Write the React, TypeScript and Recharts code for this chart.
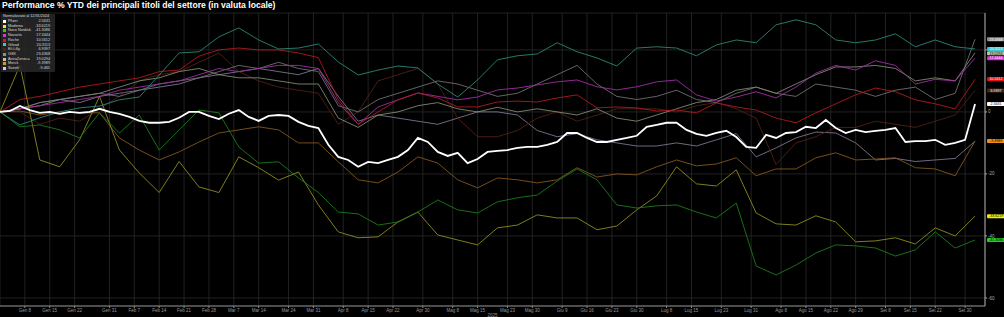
import React from "react";
import { LineChart, Line, XAxis, YAxis, CartesianGrid } from "recharts";

// variazione % YTD, normalizzata al 31/12/2024
// pfizer: un punto ogni 2 sedute, gli altri ogni 4 sedute
const pfizer = [
  0, 0.3, 1.9, 0.6, -0.3, 0, -0.6, 0, -0.3, 0,
  1.0, 0, -0.6, -1.6, -2.9, -3.5, -3.5, -3.2, -1.9, 0,
  0, -1.3, -2.3, -0.6, 0.6, -1.6, -2.9, -1.3, -1.0, -1.3,
  -3.2, -4.5, -5.2, -10.6, -14.5, -15.5, -17.7, -16.1, -16.5, -15.5,
  -14.5, -12.3, -8.4, -9.7, -12.9, -14.2, -13.2, -16.5, -15.2, -12.9,
  -12.6, -12.3, -11.6, -11.3, -11.3, -10.6, -9.7, -6.8, -6.8, -8.4,
  -9.7, -9.7, -9.0, -8.4, -7.7, -4.8, -4.2, -3.5, -3.5, -5.8,
  -7.1, -7.7, -6.8, -6.1, -8.1, -11.3, -11.6, -7.4, -8.4, -6.8,
  -6.5, -4.8, -5.2, -2.6, -5.2, -6.8, -5.8, -6.5, -6.1, -5.8,
  -5.2, -9.7, -9.4, -9.4, -9.0, -10.6, -10.0, -9.0, 2.5631,
];
const moderna = [
  0, 15, -15.5, -17.7, -9, 5, -12.3, -19.7, -26, -16,
  -24.2, -26, -14.5, -18, -22, -19.4, -30, -38.7, -40.6, -40.3,
  -35.5, -32.3, -39.7, -41.3, -42.9, -37.4, -36.5, -33.2, -34.2, -34.2,
  -38, -36.8, -31.6, -27.1, -17.7, -23.2, -23.9, -18.7, -32.6, -36.1,
  -36.5, -33.5, -35.5, -41.9, -41.6, -40.6, -42.6, -37.4, -40, -33.6219,
];
const novoNordisk = [
  0, -4.8, -4.2, -5.8, -8.4, -0.3, -6.8, -1, -12.3, -5.8,
  0.6, -0.3, -11.3, -16.5, -16.1, -21.3, -26, -32.3, -32.9, -36.5,
  -35.5, -32.3, -28.4, -31.6, -32.6, -29, -27.7, -26.8, -22.3, -18.4,
  -21.9, -30, -31, -30.3, -30, -32.3, -34.2, -29.4, -49.7, -52.6,
  -49.4, -45.5, -42.9, -43.2, -43.9, -46.5, -44.5, -38.7, -43.9, -41.3086,
];
const novartis = [
  0, 1, 2, 3, 4, 5, 7, 8, 9, 10,
  12, 14, 13, 14, 15, 15, 14, 3, -4, 1.6,
  3.9, 6.1, 5, 3.9, 4.8, 7.1, 7.7, 8.7, 9.7, 10.3,
  8.1, 7.1, 8.1, 9.7, 10.3, 5.5, 3.5, 4.8, 6.5, 4.5,
  8, 12.5, 15, 13.5, 16.5, 15, 9, 10.5, 10, 17.3444,
];
const roche = [
  0, 4, 5, 6.5, 8, 9, 10, 11, 13, 13.5,
  18, 20, 20.6, 20, 20, 19, 17.5, 4, -4, 0,
  3.9, 6.1, 4.5, 1.6, 1.6, 3.2, 3.5, 3.2, 4.5, 5.5,
  1.3, 1.6, 1.3, 0.3, 0.6, -0.3, 2.9, 1.6, 0.6, -2,
  -3.5, -0.3, 2.6, 5.5, 7.7, 6.5, 3.9, 2.6, 1, 10.5612,
];
const gilead = [
  0, -4.2, -1.9, 0, 1.3, 1.9, 3.9, 4.8, 11.9, 19,
  19.4, 24.2, 27.1, 23.2, 20.3, 20.6, 21.9, 16.1, 11.9, 13.5,
  14.8, 14.2, 9.0, 4.8, 10.3, 16.8, 18.1, 18.7, 22.3, 19.4,
  17.4, 14.8, 20.6, 21.0, 20.6, 18.1, 21.6, 23.2, 22.3, 28.1,
  29.7, 28.1, 23.2, 22.3, 23.2, 25.2, 21.0, 23.2, 21.0, 20.3113,
];
const eliLilly = [
  0, 0, -4, -2, -3, 1, 5, 10, 12, 13,
  16, 19, 13, 10, 8, 7, 6, -4, 0, 10,
  12, 14, 9, -2, -8, -8, -6, -2, 0, -3,
  -1, 1, 1, 1, 0, 2, 3, 1, -2, -17,
  -10, -8, -5, -5, -3, -4, -5, -3, -1, 6.9397,
];
const gsk = [
  0, 1, 3, 4, 5, 6, 5, 7, 9, 10,
  11, 13, 15, 14, 16, 14, 13, 2, 0, 4,
  6, 8, 10, 9, 7, 5, 6, 9, 12, 15,
  9, 5, 4, 5, 7, 4, 3, 6, 8, 6,
  5, 9, 8, 7, 5, 7, 8, 4, 6, 23.4368,
];
const astraZeneca = [
  0, 1, 2, 4, 5, 6, 8, 10, 11, 13,
  14, 12, 11, 11, 10, 9, 9, -2, -5, -1,
  0, 2, 3, 1, 0, 1.5, 0, 1, 0, -1,
  1, -2, -3, -1, 1, 3, 4, 7, 8, 6,
  9, 12, 14.5, 14.5, 15, 14, 10, 11, 10, 19.0294,
];
const merck = [
  0, 0.3, -1, 0, -0.3, -0.3, -8.4, -12.3, -15.5, -12.9,
  -9.7, -6.8, -5.8, -4.8, -5.8, -10, -10, -16.1, -21.9, -22.9,
  -19.4, -14.5, -16.5, -21.9, -24.5, -21.3, -21.9, -22.9, -21.9, -18,
  -21, -20, -20.3, -17.7, -15.5, -17.4, -16.8, -14.8, -20.6, -18.4,
  -18.4, -14.8, -13.2, -15.5, -15.2, -14.8, -18, -18.4, -20.6, -9.3989,
];
const sanofi = [
  0, 1, 3, 4, 3, 5, 6, 7, 8, 9,
  11, 12, 13, 14, 13, 12, 14, 5, -3, -1,
  -2, -3, -4, -2, 0, 0, -1, -6, -8, -7,
  -9, -10, -11, -11, -10, -11, -9, -7, -14.5, -11.6,
  -8.4, -6.5, -6.8, -10, -15.5, -15, -16, -15.5, -15, -9.465,
];

// etichette dell'asse x (mese, giorno) e dell'asse y
const tickDates: [number, number][] = [
  [1, 8], [1, 15], [1, 22], [1, 31], [2, 7], [2, 14], [2, 21], [2, 28],
  [3, 7], [3, 14], [3, 24], [3, 31], [4, 8], [4, 15], [4, 22], [4, 30],
  [5, 8], [5, 15], [5, 23], [5, 30], [6, 9], [6, 16], [6, 23], [6, 30],
  [7, 8], [7, 15], [7, 23], [7, 31], [8, 8], [8, 15], [8, 22], [8, 29],
  [9, 8], [9, 15], [9, 22], [9, 30],
];
const mesi = ["Gen", "Feb", "Mar", "Apr", "Mag", "Giu", "Lug", "Ago", "Set"];
const yTicks = [-60, -40, -20, 0, 20];
// il "20" resta coperto dalle etichette finali nel grafico originale
const yHidden = [20];
const Y_DOMAIN: [number, number] = [-62.6, 31.9];

// seduta n. (31/12/2024 = 0, giorni feriali)
function seduta(m: number, d: number) {
  let n = 0;
  const t = new Date(Date.UTC(2025, 0, 2));
  const end = Date.UTC(2025, m - 1, d);
  while (t.getTime() <= end) {
    const wd = t.getUTCDay();
    if (wd !== 0 && wd !== 6) n++;
    t.setUTCDate(t.getUTCDate() + 1);
  }
  return n;
}

const xTicks = tickDates.map(([m, d]) => seduta(m, d));
const xLabels: Record<number, string> = {};
tickDates.forEach(([m, d], k) => {
  xLabels[xTicks[k]] = `${mesi[m - 1]} ${d}`;
});

type Serie = {
  name: string;
  values: number[];
  step: number;
  stroke: string;
  width: number;
  badge: string;
  ink: string;
  text: string;
  showBadge: boolean;
};

// ordine di disegno (Pfizer sopra a tutto)
const series: Serie[] = [
  { name: "Sanofi", values: sanofi, step: 4, stroke: "#8f829f", width: 0.8, badge: "#d6c2f0", ink: "#000", text: "-9.465", showBadge: false },
  { name: "Eli Lilly", values: eliLilly, step: 4, stroke: "#5a2418", width: 0.8, badge: "#4a2414", ink: "#fff", text: "6.9397", showBadge: true },
  { name: "AstraZeneca", values: astraZeneca, step: 4, stroke: "#8f9a80", width: 0.8, badge: "#b9c6a6", ink: "#000", text: "19.0294", showBadge: true },
  { name: "GSK", values: gsk, step: 4, stroke: "#7c7c7c", width: 0.8, badge: "#8e8e8e", ink: "#fff", text: "23.4368", showBadge: true },
  { name: "Novartis", values: novartis, step: 4, stroke: "#a02ca6", width: 0.9, badge: "#e030e0", ink: "#fff", text: "17.3444", showBadge: true },
  { name: "Roche", values: roche, step: 4, stroke: "#b01a1e", width: 0.9, badge: "#e01414", ink: "#fff", text: "10.5612", showBadge: true },
  { name: "Merck", values: merck, step: 4, stroke: "#83561e", width: 0.9, badge: "#f0901c", ink: "#000", text: "-9.3989", showBadge: true },
  { name: "Moderna", values: moderna, step: 4, stroke: "#8c8c1e", width: 0.9, badge: "#f2f000", ink: "#000", text: "-33.6219", showBadge: true },
  { name: "Novo Nordisk", values: novoNordisk, step: 4, stroke: "#1c7c1c", width: 0.9, badge: "#22d022", ink: "#000", text: "-41.3086", showBadge: true },
  { name: "Gilead", values: gilead, step: 4, stroke: "#2c8676", width: 0.9, badge: "#3cc4d2", ink: "#fff", text: "20.3113", showBadge: true },
  { name: "Pfizer", values: pfizer, step: 2, stroke: "#ffffff", width: 1.8, badge: "#ffffff", ink: "#000", text: "2.5631", showBadge: true },
];

const legendOrder = [
  "Pfizer", "Moderna", "Novo Nordisk", "Novartis", "Roche", "Gilead",
  "Eli Lilly", "GSK", "AstraZeneca", "Merck", "Sanofi",
];

const toPoints = (vals: number[], step: number) =>
  vals.map((v, k) => ({ i: k * step, v }));

// spostamento verticale delle etichette finali perché non si sovrappongano
const PLOT_TOP = 13;
const PLOT_H = 317 - 13 - 11;
const BADGE_H = 4;
const badgeShift: Record<string, number> = {};
(() => {
  const rows = series
    .filter((s) => s.showBadge)
    .map((s) => {
      const v = s.values[s.values.length - 1];
      const y = PLOT_TOP + ((Y_DOMAIN[1] - v) / (Y_DOMAIN[1] - Y_DOMAIN[0])) * PLOT_H;
      return { name: s.name, y, pos: y };
    })
    .sort((a, b) => a.y - b.y);
  for (let k = 1; k < rows.length; k++) {
    if (rows[k].pos - rows[k - 1].pos < BADGE_H + 0.4) rows[k].pos = rows[k - 1].pos + BADGE_H + 0.4;
  }
  rows.forEach((r) => (badgeShift[r.name] = r.pos - r.y));
})();

const makeBadge = (s: Serie) => (p: any) => {
  if (!s.showBadge || p.index !== s.values.length - 1) return <g />;
  const x = p.x + 12;
  const y = p.y + (badgeShift[s.name] || 0);
  return (
    <g>
      <rect x={x} y={y - BADGE_H / 2} width={18} height={BADGE_H} rx={0.8} fill={s.badge} />
      <text x={x + 9} y={y + 1.3} textAnchor="middle" fontSize={3.6} fill={s.ink}>
        {s.text}
      </text>
    </g>
  );
};

const YTick = (p: any) => {
  const v = p.payload.value;
  if (yHidden.includes(v)) return <g />;
  return (
    <text x={p.x} y={p.y} dy="0.35em" textAnchor="start" fontSize={4.5} fill="#aaaaaa">
      {v}
    </text>
  );
};

function Legenda() {
  return (
    <div
      style={{
        position: "absolute",
        left: 1,
        top: 14,
        width: 54,
        height: 58,
        background: "rgba(40,40,40,0.85)",
        fontSize: 3.8,
        lineHeight: "4.73px",
        color: "#d8d8d8",
        padding: "0 2px",
        boxSizing: "border-box",
      }}
    >
      <div style={{ lineHeight: "5px" }}>Normalizzato al 12/31/2024</div>
      {legendOrder.map((n) => {
        const s = series.find((x) => x.name === n)!;
        return (
          <div key={n} style={{ display: "flex", alignItems: "center", height: 4.73 }}>
            <span style={{ width: 3, height: 3, background: s.badge, marginRight: 2 }} />
            <span style={{ flex: 1 }}>{n}</span>
            <span style={{ marginRight: 3 }}>{s.text}</span>
          </div>
        );
      })}
    </div>
  );
}

export default function App() {
  return (
    <div
      style={{
        position: "absolute",
        left: 0,
        top: 0,
        width: 1004,
        height: 317,
        background: "#000",
        overflow: "hidden",
        fontFamily: "'Liberation Sans', Arial, sans-serif",
      }}
    >
      <LineChart width={1004} height={317} margin={{ top: PLOT_TOP, right: 0, bottom: 0, left: 0 }}>
        <CartesianGrid stroke="#292929" strokeWidth={0.8} />
        <XAxis
          type="number"
          dataKey="i"
          domain={[0, 198]}
          ticks={xTicks}
          interval={0}
          tickFormatter={(v: number) => xLabels[v] ?? ""}
          tick={{ fontSize: 4.5, fill: "#9a9a9a" }}
          tickSize={2}
          tickMargin={1}
          height={11}
          axisLine={{ stroke: "#8a8a8a" }}
          tickLine={{ stroke: "#8a8a8a" }}
          label={{ value: "2025", position: "insideBottom", offset: 0, fontSize: 4.5, fill: "#9a9a9a" }}
        />
        <YAxis
          orientation="right"
          type="number"
          domain={Y_DOMAIN}
          ticks={yTicks}
          width={19}
          tick={YTick}
          tickSize={2}
          tickMargin={1}
          axisLine={{ stroke: "#aaaaaa" }}
          tickLine={{ stroke: "#aaaaaa" }}
        />
        {series.map((s) => (
          <Line
            key={s.name}
            name={s.name}
            data={toPoints(s.values, s.step)}
            dataKey="v"
            type="linear"
            stroke={s.stroke}
            strokeWidth={s.width}
            dot={false}
            activeDot={false}
            isAnimationActive={false}
            label={makeBadge(s)}
          />
        ))}
      </LineChart>
      <div
        style={{
          position: "absolute",
          left: 2,
          top: 0,
          fontSize: 8.6,
          fontWeight: "bold",
          color: "#fff",
          lineHeight: "10px",
          whiteSpace: "nowrap",
        }}
      >
        Performance % YTD dei principali titoli del settore (in valuta locale)
      </div>
      <Legenda />
    </div>
  );
}
